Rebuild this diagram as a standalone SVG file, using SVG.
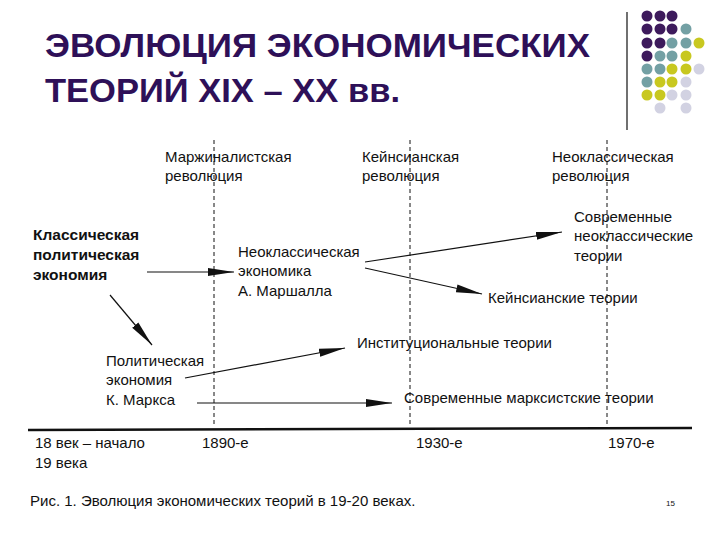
<svg xmlns="http://www.w3.org/2000/svg" width="720" height="540" viewBox="0 0 720 540">
<style>
text{font-family:"Liberation Sans",Arial,sans-serif;fill:#111}
.t{font-size:15px}
.b{font-size:15.5px;font-weight:bold}
.h{font-size:33px;font-weight:bold;fill:#2e1058}
.d{stroke:#111;stroke-width:1;stroke-dasharray:4,3}
.a{stroke:#111;stroke-width:1.2;fill:none;marker-end:url(#ah)}
.P{fill:#3d1a5c}.T{fill:#73a0a4}.Y{fill:#c8c820}.L{fill:#d2d2e2}
</style>
<defs>
<marker id="ah" viewBox="0 0 26 10" refX="26" refY="5" markerWidth="26" markerHeight="10" markerUnits="userSpaceOnUse" orient="auto">
<path d="M0,1 L26,5 L0,9 Z" fill="#111"/>
</marker>
</defs>
<rect width="720" height="540" fill="#fff"/>
<g id="title">
<text class="h" x="45" y="57" textLength="545" lengthAdjust="spacingAndGlyphs">ЭВОЛЮЦИЯ ЭКОНОМИЧЕСКИХ</text>
<text class="h" x="45" y="102" textLength="355" lengthAdjust="spacingAndGlyphs">ТЕОРИЙ XIX – XX вв.</text>
</g>
<g id="decor">
<line x1="627" y1="12" x2="627" y2="130" stroke="#111" stroke-width="1.2"/>
<g>
<circle class="P" cx="647" cy="16" r="5.5"/><circle class="P" cx="660" cy="16" r="5.5"/><circle class="P" cx="672" cy="16" r="5.5"/>
<circle class="P" cx="647" cy="29" r="5.5"/><circle class="P" cx="660" cy="29" r="5.5"/><circle class="P" cx="672" cy="29" r="5.5"/><circle class="T" cx="686" cy="29" r="5.5"/>
<circle class="P" cx="647" cy="43" r="5.5"/><circle class="P" cx="660" cy="43" r="5.5"/><circle class="T" cx="672" cy="43" r="5.5"/><circle class="T" cx="686" cy="43" r="5.5"/><circle class="Y" cx="699" cy="43" r="5.5"/>
<circle class="P" cx="647" cy="56" r="5.5"/><circle class="T" cx="660" cy="56" r="5.5"/><circle class="T" cx="672" cy="56" r="5.5"/><circle class="Y" cx="686" cy="56" r="5.5"/>
<circle class="T" cx="647" cy="69" r="5.5"/><circle class="T" cx="660" cy="69" r="5.5"/><circle class="Y" cx="672" cy="69" r="5.5"/><circle class="Y" cx="686" cy="69" r="5.5"/><circle class="L" cx="699" cy="69" r="5.5"/>
<circle class="T" cx="647" cy="82" r="5.5"/><circle class="Y" cx="660" cy="82" r="5.5"/><circle class="Y" cx="672" cy="82" r="5.5"/><circle class="L" cx="686" cy="82" r="5.5"/>
<circle class="Y" cx="647" cy="95" r="5.5"/><circle class="Y" cx="660" cy="95" r="5.5"/><circle class="L" cx="672" cy="95" r="5.5"/><circle class="L" cx="686" cy="95" r="5.5"/>
<circle class="L" cx="660" cy="108" r="5.5"/><circle class="L" cx="686" cy="108" r="5.5"/>
</g>
</g>
<g id="timeline">
<line class="d" x1="214" y1="140" x2="214" y2="425"/>
<line class="d" x1="410" y1="140" x2="410" y2="425"/>
<line class="d" x1="607" y1="140" x2="607" y2="425"/>
<line x1="28" y1="430" x2="692" y2="428" stroke="#111" stroke-width="2.5"/>
</g>
<g id="connectors">
<line class="a" x1="147" y1="272" x2="234" y2="272"/>
<line class="a" x1="110" y1="295" x2="152" y2="345"/>
<line class="a" x1="365" y1="262" x2="562" y2="232"/>
<line class="a" x1="365" y1="268" x2="482" y2="294"/>
<line class="a" x1="185" y1="378" x2="345" y2="348"/>
<line class="a" x1="197" y1="403" x2="392" y2="403"/>
</g>
<g id="n-marg"><text class="t" x="165" y="162">Маржиналистская</text><text class="t" x="165" y="181">революция</text></g>
<g id="n-keyrev"><text class="t" x="362" y="162">Кейнсианская</text><text class="t" x="362" y="181">революция</text></g>
<g id="n-neorev"><text class="t" x="552" y="162">Неоклассическая</text><text class="t" x="552" y="181">революция</text></g>
<g id="n-class"><text class="b" x="33" y="240">Классическая</text><text class="b" x="33" y="260">политическая</text><text class="b" x="33" y="280">экономия</text></g>
<g id="n-marsh"><text class="t" x="238" y="257">Неоклассическая</text><text class="t" x="238" y="276">экономика</text><text class="t" x="238" y="296">А. Маршалла</text></g>
<g id="n-modneo"><text class="t" x="574" y="222">Современные</text><text class="t" x="574" y="241">неоклассические</text><text class="t" x="574" y="261">теории</text></g>
<g id="n-keyth"><text class="t" x="488" y="303">Кейнсианские теории</text></g>
<g id="n-marx"><text class="t" x="106" y="366">Политическая</text><text class="t" x="106" y="385">экономия</text><text class="t" x="106" y="405">К. Маркса</text></g>
<g id="n-inst"><text class="t" x="357" y="348">Институциональные теории</text></g>
<g id="n-modmarx"><text class="t" x="404" y="403">Современные марксистские теории</text></g>
<g id="labels">
<text class="t" x="35" y="448">18 век – начало</text>
<text class="t" x="35" y="468">19 века</text>
<text class="t" x="202" y="448">1890-е</text>
<text class="t" x="416" y="448">1930-е</text>
<text class="t" x="608" y="448">1970-е</text>
<text class="t" x="30" y="506">Рис. 1. Эволюция экономических теорий в 19-20 веках.</text>
<text x="666" y="506" font-size="8">15</text>
</g>
</svg>
